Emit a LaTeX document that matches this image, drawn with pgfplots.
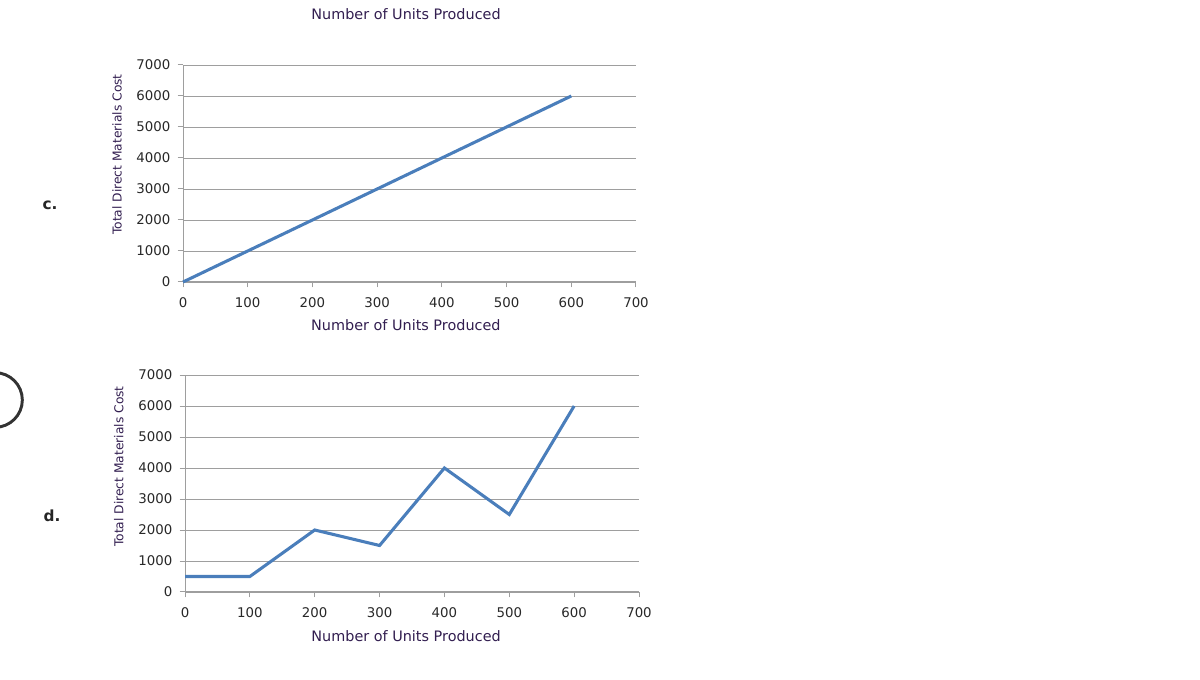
\documentclass[border=0pt]{standalone}
\usepackage{pgfplots}
\pgfplotsset{compat=1.18}
\usepackage{fontspec}
\setmainfont{DejaVu Sans}
\definecolor{linec}{RGB}{74,126,187}
\definecolor{gridc}{RGB}{158,158,158}
\definecolor{labc}{RGB}{50,30,80}
\definecolor{tickc}{RGB}{40,40,40}
\pgfplotsset{
  myax/.style={
    scale only axis, width=339.75bp, height=162.75bp,
    xmin=0, xmax=700, ymin=0, ymax=7000,
    xtick={0,100,...,700}, ytick={0,1000,...,7000},
    axis x line*=bottom, axis y line*=left,
    axis line style={gridc, line width=0.75bp},
    ymajorgrids, grid style={gridc, line width=0.65bp},
    tick style={gridc, line width=0.75bp},
    tick align=outside, major tick length=4bp,
    /pgf/number format/assume math mode=true,
    /pgf/number format/1000 sep={},
    ticklabel style={font=\fontsize{10bp}{12bp}\selectfont, text=tickc},
    xticklabel style={yshift=-4bp},
    yticklabel style={xshift=-2bp},
    xlabel={Number of Units Produced},
    ylabel={Total Direct Materials Cost},
    xlabel style={font=\fontsize{10.8bp}{12bp}\selectfont, text=labc, anchor=center},
    ylabel style={font=\fontsize{9.2bp}{11bp}\selectfont, text=labc, anchor=center, rotate=0},
    clip=false,
  }
}
\begin{document}
\begin{tikzpicture}
\path[use as bounding box] (0,0) rectangle (900bp,510bp);
\node[font=\fontsize{10.8bp}{12bp}\selectfont, text=labc] at (304.5bp,499.5bp) {Number of Units Produced};
\node[font=\fontsize{11.5bp}{13bp}\selectfont\bfseries, text=black!85] at (37.5bp,356bp) {c.};
\node[font=\fontsize{11.5bp}{13bp}\selectfont\bfseries, text=black!85] at (39bp,123.5bp) {d.};
\draw[line width=2.2bp, color=black!80] (-3.75bp,210bp) circle (20.5bp);
\begin{axis}[myax, at={(137.25bp,298.5bp)}, anchor=south west,
  xlabel style={at={(axis description cs:0.492,-0.198)}},
  ylabel style={at={(axis description cs:-0.1457,0.5876)}}]
\addplot[linec, line width=2.3bp] coordinates {(0,0) (100,1000) (200,2000) (300,3000) (400,4000) (500,5000) (600,6000)};
\end{axis}
\begin{axis}[myax, at={(138.75bp,66bp)}, anchor=south west, width=340.5bp,
  xlabel style={at={(axis description cs:0.487,-0.203)}},
  ylabel style={at={(axis description cs:-0.1457,0.578)}}]
\addplot[linec, line width=2.3bp] coordinates {(0,500) (100,500) (200,2000) (300,1500) (400,4000) (500,2500) (600,6000)};
\end{axis}
\end{tikzpicture}
\end{document}
